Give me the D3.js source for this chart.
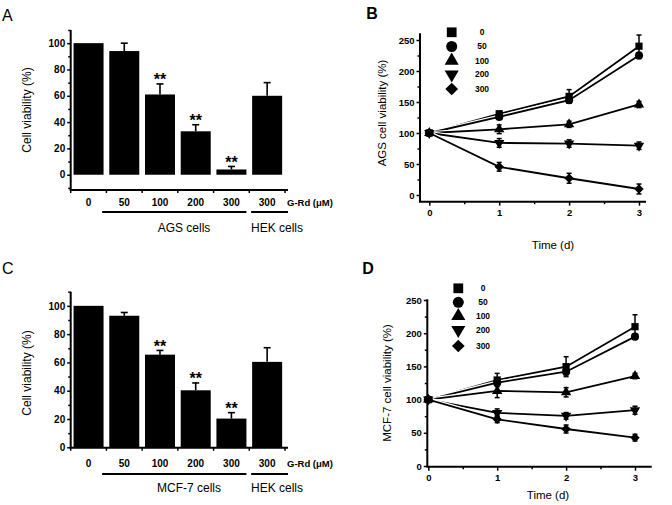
<!DOCTYPE html>
<html><head><meta charset="utf-8">
<script src="https://cdn.jsdelivr.net/npm/d3@7"></script>
<style>body{margin:0;background:#fff}svg{display:block;font-family:"Liberation Sans",Arial,sans-serif}</style>
</head><body><svg id="c" width="672" height="505"></svg>
<script>
// ---- data ----
const barCats = ["0","50","100","200","300","300"];
const valsA = [100, 94, 61, 33, 4, 60];
const errA  = [0, 6, 8, 5, 2.3, 10];
const sigA  = [false, false, true, true, true, false];
const valsC = [100, 93, 65.5, 40.3, 20.3, 60.4];
const errC  = [0, 2.3, 3, 5.2, 4.2, 10];
const sigC  = [false, false, true, true, true, false];

const days = [0, 1, 2, 3];
const doses = ["0", "50", "100", "200", "300"];
const agsVals = [
  [100, 131, 159, 240],
  [100, 126, 153, 225],
  [100, 106, 114, 146],
  [100, 84, 83, 79.5],
  [100, 45.5, 27, 9.7]
];
const agsErr = [
  [0, 4, 11, 18],
  [0, 3, 5, 5],
  [0, 7, 5, 5],
  [0, 7, 6, 6],
  [0, 7, 8, 8]
];
const mcfVals = [
  [100, 129.5, 149.6, 209.8],
  [100, 125.5, 142, 194.8],
  [100, 113, 111, 135.5],
  [100, 80, 75.5, 84],
  [100, 70.3, 55.7, 42.7]
];
const mcfErr = [
  [0, 10, 15, 18],
  [0, 4, 5, 4],
  [0, 10, 7, 4],
  [0, 6, 5, 6],
  [0, 5, 6, 5]
];

const svg = d3.select("#c");

function styleAxis(g) {
  g.select(".domain").remove();
  g.selectAll(".tick line").attr("stroke", "#000").attr("stroke-width", 1.5);
}

// ---- bar panels ----
function barPanel(o) {
  const g = svg.append("g");
  const x = d3.scaleBand().domain(d3.range(barCats.length)).range([70.7, 285]).paddingInner(0.16).paddingOuter(0.08);
  const y = d3.scaleLinear().domain(o.yDomain).range(o.yRange);
  const step = x.step(), bw = x.bandwidth();
  g.selectAll("rect.bar").data(o.vals).join("rect")
    .attr("x", (d, i) => x(i)).attr("width", bw)
    .attr("y", d => y(d)).attr("height", d => y(0) - y(d))
    .attr("fill", "#000");
  o.vals.forEach((v, i) => {
    if (!o.errs[i]) return;
    const cx = x(i) + bw / 2, top = y(v + o.errs[i]);
    g.append("line").attr("x1", cx).attr("x2", cx).attr("y1", y(v)).attr("y2", top).attr("stroke", "#000").attr("stroke-width", 1.6);
    g.append("line").attr("x1", cx - 3.5).attr("x2", cx + 3.5).attr("y1", top).attr("y2", top).attr("stroke", "#000").attr("stroke-width", 1.6);
    if (o.sig[i]) g.append("text").attr("x", cx).attr("y", top + 1.5).attr("text-anchor", "middle")
      .attr("font-size", 16).attr("font-weight", "bold").text("**");
  });
  const ax = x.range()[0];
  const ya = g.append("g").attr("transform", `translate(${ax},0)`)
    .call(d3.axisLeft(y).tickValues(o.majors).tickSize(3.5).tickPadding(2));
  styleAxis(ya);
  ya.selectAll("text").attr("font-size", 10).attr("font-weight", "bold").attr("fill", "#000");
  const ym = g.append("g").attr("transform", `translate(${ax},0)`)
    .call(d3.axisLeft(y).tickValues(o.minors).tickSize(2.5).tickFormat(""));
  styleAxis(ym);
  g.append("line").attr("x1", ax).attr("x2", ax).attr("y1", o.axisBottom).attr("y2", o.axisTop).attr("stroke", "#000").attr("stroke-width", 2);
  g.append("line").attr("x1", ax - 1).attr("x2", 288).attr("y1", o.axisBottom).attr("y2", o.axisBottom).attr("stroke", "#000").attr("stroke-width", 2);
  d3.range(barCats.length + 1).forEach(k => {
    const tx = ax + k * step;
    g.append("line").attr("x1", tx).attr("x2", tx).attr("y1", o.axisBottom).attr("y2", o.axisBottom + 3).attr("stroke", "#000").attr("stroke-width", 1.5);
  });
  barCats.forEach((c, i) => {
    g.append("text").attr("x", x(i) + bw / 2).attr("y", o.tickY).attr("text-anchor", "middle")
      .attr("font-size", 10).attr("font-weight", "bold").text(c);
  });
  g.append("text").attr("x", 287).attr("y", o.tickY).attr("font-size", 9.5).attr("font-weight", "bold").text("G-Rd (\u03BCM)");
  const s1 = x(1) - 0.2 * step, e1 = x(4) + bw, s2 = x(5) - 1, e2 = 288;
  g.append("line").attr("x1", s1).attr("x2", e1).attr("y1", o.lineY).attr("y2", o.lineY).attr("stroke", "#000").attr("stroke-width", 2);
  g.append("line").attr("x1", s2).attr("x2", e2).attr("y1", o.lineY).attr("y2", o.lineY).attr("stroke", "#000").attr("stroke-width", 2);
  g.append("text").attr("x", o.groupX).attr("y", o.groupY).attr("text-anchor", "middle").attr("font-size", 12).text(o.group);
  g.append("text").attr("x", 277).attr("y", o.groupY).attr("text-anchor", "middle").attr("font-size", 12).text("HEK cells");
  g.append("text").attr("transform", `translate(${o.ylabX},${o.ylabY}) rotate(-90)`).attr("text-anchor", "middle")
    .attr("dy", "0.35em").attr("font-size", 12).text("Cell viability (%)");
  g.append("text").attr("x", 2).attr("y", o.letterY).attr("font-size", 16).text(o.letter);
}

barPanel({
  vals: valsA, errs: errA, sig: sigA,
  yDomain: [-11.6, 110], yRange: [190, 30], axisTop: 30, axisBottom: 190,
  majors: [0, 20, 40, 60, 80, 100], minors: [-10, 10, 30, 50, 70, 90, 110],
  tickY: 206, lineY: 212, groupY: 232, groupX: 184, group: "AGS cells",
  ylabX: 27, ylabY: 110, letter: "A", letterY: 21
});
barPanel({
  vals: valsC, errs: errC, sig: sigC,
  yDomain: [0, 110], yRange: [447.3, 291.7], axisTop: 291.7, axisBottom: 447.8,
  majors: [0, 20, 40, 60, 80, 100], minors: [10, 30, 50, 70, 90, 110],
  tickY: 467, lineY: 474, groupY: 492, groupX: 189, group: "MCF-7 cells",
  ylabX: 27, ylabY: 373, letter: "C", letterY: 274
});

// ---- line panels ----
const symTypes = [d3.symbolSquare, d3.symbolCircle, d3.symbolTriangle, d3.symbolTriangle, d3.symbolSquare];
const symRot = [0, 0, 0, 180, 45];
function sym(i, size) { return d3.symbol().type(symTypes[i]).size(i === 4 ? size * 0.85 : (i === 2 || i === 3) ? size * 0.9 : size)(); }

function linePanel(o) {
  const g = svg.append("g");
  const x = d3.scaleLinear().domain([0, 3]).range(o.xRange);
  const y = d3.scaleLinear().domain([0, 250]).range(o.yRange);
  const line = d3.line().x((d, i) => x(days[i])).y(d => y(d));
  o.vals.forEach((s, si) => {
    g.append("path").attr("d", line(s)).attr("fill", "none").attr("stroke", "#fff").attr("stroke-width", 4.2);
    g.append("path").attr("d", line(s)).attr("fill", "none").attr("stroke", "#000").attr("stroke-width", 1.8);
  });
  o.vals.forEach((s, si) => {
    s.forEach((v, di) => {
      const e = o.errs[si][di];
      const cx = x(days[di]);
      if (e) {
        g.append("line").attr("x1", cx).attr("x2", cx).attr("y1", y(v - e)).attr("y2", y(v + e)).attr("stroke", "#000").attr("stroke-width", 1.5);
        [v - e, v + e].forEach(t => g.append("line").attr("x1", cx - 2.5).attr("x2", cx + 2.5).attr("y1", y(t)).attr("y2", y(t)).attr("stroke", "#000").attr("stroke-width", 1.5));
      }
      g.append("path").attr("d", sym(si, 52)).attr("transform", `translate(${cx},${y(v)}) rotate(${symRot[si]})`).attr("fill", "#000");
    });
  });
  const yl = o.yAxisX;
  const ya = g.append("g").attr("transform", `translate(${yl},0)`)
    .call(d3.axisLeft(y).tickValues([0, 50, 100, 150, 200, 250]).tickSize(3.5).tickPadding(2));
  styleAxis(ya);
  ya.selectAll("text").attr("font-size", 9.5).attr("font-weight", "bold").attr("fill", "#000");
  const ym = g.append("g").attr("transform", `translate(${yl},0)`)
    .call(d3.axisLeft(y).tickValues([25, 75, 125, 175, 225]).tickSize(2.5).tickFormat(""));
  styleAxis(ym);
  g.append("line").attr("x1", yl).attr("x2", yl).attr("y1", o.xAxisY).attr("y2", o.yTop).attr("stroke", "#000").attr("stroke-width", 2);
  const xa = g.append("g").attr("transform", `translate(0,${o.xAxisY})`)
    .call(d3.axisBottom(x).tickValues(days).tickSize(4).tickPadding(4).tickFormat(d3.format("d")));
  styleAxis(xa);
  xa.selectAll("text").attr("font-size", 9.5).attr("font-weight", "bold").attr("fill", "#000");
  const xm = g.append("g").attr("transform", `translate(0,${o.xAxisY})`)
    .call(d3.axisBottom(x).tickValues([0.5, 1.5, 2.5]).tickSize(2.5).tickFormat(""));
  styleAxis(xm);
  g.append("line").attr("x1", yl - 1).attr("x2", o.xEnd).attr("y1", o.xAxisY).attr("y2", o.xAxisY).attr("stroke", "#000").attr("stroke-width", 2);
  g.append("text").attr("x", o.timeX).attr("y", o.timeY).attr("text-anchor", "middle").attr("font-size", 11.5).text("Time (d)");
  g.append("text").attr("transform", `translate(${o.ylabX},${o.ylabY}) rotate(-90)`).attr("text-anchor", "middle")
    .attr("dy", "0.35em").attr("font-size", 11.5).text(o.ylab);
  doses.forEach((d, i) => {
    const ly = o.legY[i];
    g.append("path").attr("d", sym(i, 95)).attr("transform", `translate(${o.legX},${ly}) rotate(${symRot[i]})`).attr("fill", "#000");
    g.append("text").attr("x", o.legTX).attr("y", ly).attr("dy", "0.35em").attr("text-anchor", "middle")
      .attr("font-size", 8.5).attr("font-weight", "bold").text(d);
  });
  g.append("text").attr("x", o.letterX).attr("y", o.letterY).attr("text-anchor", "middle").attr("font-size", 16).attr("font-weight", "bold").text(o.letter);
}

linePanel({
  vals: agsVals, errs: agsErr, xRange: [429.3, 639], yRange: [195, 40],
  yAxisX: 420, yTop: 33.3, xAxisY: 201.7, xEnd: 646,
  timeX: 553, timeY: 249, ylabX: 382, ylabY: 113, ylab: "AGS cell viability (%)",
  legX: 451.7, legTX: 482, legY: [32.3, 46.5, 60.7, 74.5, 89],
  letter: "B", letterX: 372, letterY: 19
});
linePanel({
  vals: mcfVals, errs: mcfErr, xRange: [428.3, 635], yRange: [466, 300],
  yAxisX: 427.3, yTop: 299.3, xAxisY: 466.7, xEnd: 651.7,
  timeX: 548, timeY: 499, ylabX: 387, ylabY: 383, ylab: "MCF-7 cell viability (%)",
  legX: 458.3, legTX: 483, legY: [288.3, 302.3, 316, 330, 346],
  letter: "D", letterX: 368, letterY: 274
});
</script></body></html>
